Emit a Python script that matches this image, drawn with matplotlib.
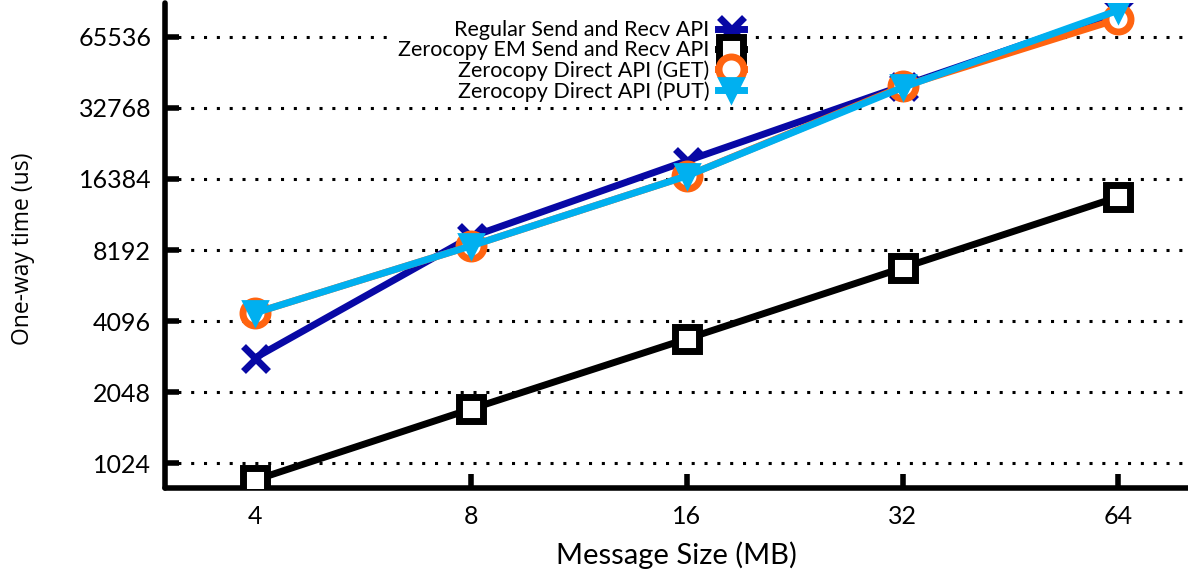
import matplotlib

matplotlib.use("Agg")
import matplotlib.pyplot as plt

plt.rcParams["font.family"] = ["Lato", "DejaVu Sans"]

sizes = [4, 8, 16, 32, 64]
regular = [2855, 9300, 19530, 40640, 83600]
zc_em = [867, 1735, 3440, 6880, 13760]
zc_get = [4430, 8520, 16870, 40400, 78070]
zc_put = [4430, 8520, 16870, 40000, 85000]
y_ticks = [1024, 2048, 4096, 8192, 16384, 32768, 65536]

fig = plt.figure(figsize=(11.88, 5.81), dpi=100)
ax = fig.add_axes([0.139, 0.160, 0.861, 0.835])

ax.plot(sizes, regular, color="#0808a5", lw=5, marker="x", ms=18, mew=5,
        label="Regular Send and Recv API", zorder=3)
ax.plot(sizes, zc_em, color="black", lw=5, marker="s", ms=17, mew=5,
        mfc="white", label="Zerocopy EM Send and Recv API", zorder=3)
ax.plot(sizes, zc_get, color="#ff6410", lw=5, marker="o", ms=18, mew=5,
        mfc="white", label="Zerocopy Direct API (GET)", zorder=4)
ax.plot(sizes, zc_put, color="#00b0f0", lw=5, marker="v", ms=17, mew=2,
        label="Zerocopy Direct API (PUT)", zorder=5)

ax.set_xscale("log", base=2)
ax.set_yscale("log", base=2)
ax.set_xlim(3.0, 80)
ax.set_ylim(803, 91300)
ax.set_xticks(sizes)
ax.set_xticklabels([str(s) for s in sizes])
ax.set_yticks(y_ticks)
ax.set_yticklabels([str(t) for t in y_ticks])
ax.minorticks_off()

ax.grid(True, axis="y", linestyle=(0, (1, 3.2)), color="black", lw=2.2)
ax.set_axisbelow(True)

for side in ["top", "right"]:
    ax.spines[side].set_visible(False)
for side in ["left", "bottom"]:
    ax.spines[side].set_linewidth(4)
    ax.spines[side].set_capstyle("round")

ax.tick_params(axis="both", direction="in", length=10, width=4, labelsize=18, pad=10)
ax.tick_params(axis="x", pad=12)

ax.set_xlabel("Message Size (MB)", fontsize=21, labelpad=10)
ax.set_ylabel("One-way time (us)", fontsize=16.5, family=["Open Sans", "DejaVu Sans"])
ax.yaxis.set_label_coords(-0.127, 0.493)

leg = ax.legend(loc="upper right", bbox_to_anchor=(0.571, 0.975), markerfirst=False,
                fontsize=15.5, frameon=True, edgecolor="none", facecolor="white",
                framealpha=1, handlelength=1.2, labelspacing=0.0, borderpad=0.25,
                handletextpad=0.4, borderaxespad=0.0, fancybox=False)
leg.set_zorder(10)

fig.savefig("out.png", dpi=100)
